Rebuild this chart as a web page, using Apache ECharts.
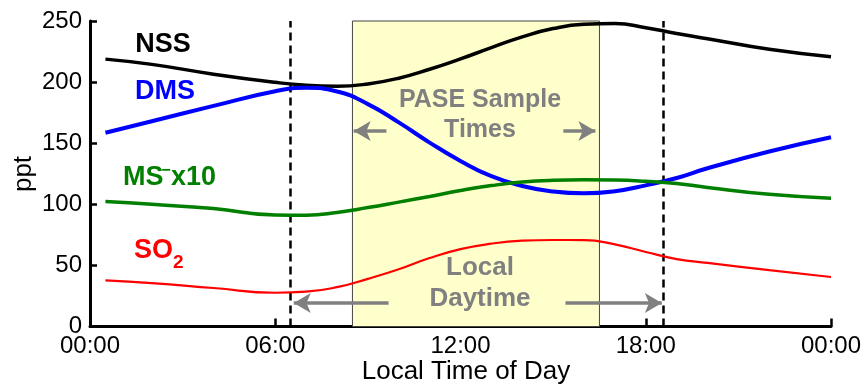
<!DOCTYPE html>
<html><head><meta charset="utf-8">
<script src="https://cdn.jsdelivr.net/npm/echarts@6/dist/echarts.min.js"></script>
<style>html,body{margin:0;padding:0;background:#fff}#c{width:867px;height:389px}</style>
</head><body><div id="c"></div>
<script>
// ---- data ----
const hours = [0.5, 2, 4, 6, 7, 8, 9, 10, 11, 12, 13, 14, 15, 16, 17, 18, 19, 20, 22, 24];
const nss   = [218.8, 214.5, 206.5, 199.8, 197.4, 196.6, 198.5, 203.2, 210.5, 219, 228.2, 237, 243.8, 247.3, 247.9, 244.5, 239.8, 235.5, 226.8, 220.7];
const dms   = [158.5, 168, 180.5, 192.5, 195.3, 192.3, 182, 167, 150.5, 135.5, 123, 115, 110.5, 109, 110.7, 115.5, 121.5, 129.5, 143.2, 154.9];
const ms10  = [102.2, 100, 96.5, 91.2, 91.1, 93.3, 97.3, 101.8, 106.4, 111.3, 115.3, 118.2, 119.6, 120, 119.8, 118.8, 117, 113.8, 108.2, 105];
const so2   = [37.8, 35.5, 31.5, 27.6, 28.5, 32.2, 39, 46.8, 56, 63.3, 67.8, 70.2, 70.8, 70.7, 67.2, 61, 55.2, 52, 46.1, 40.5];
const xTickLabels = ['00:00', '06:00', '12:00', '18:00', '00:00'];
const samplePeriod = [8.5, 16.5];          // PASE sample times (hours)
const daytimeBounds = [6.47, 18.58];       // local sunrise / sunset (hours)
const sampleArrows = [[9.6, 8.54], [15.33, 16.37]];   // [tail, tip] hours
const sampleArrowY = 160;
const daytimeArrows = [[9.67, 6.6], [15.4, 18.52]];
const daytimeArrowY = 19.3;

const FONT = '"Liberation Sans", Arial, Helvetica, sans-serif';
const pair = arr => hours.map((h, i) => [h, arr[i]]);
const lineSeries = (name, arr, color, width) => ({
  type: 'line', name, data: pair(arr), showSymbol: false, smooth: 0.5,
  lineStyle: { color, width }, z: 5, silent: true
});
const arrowLine = (pairs, y) => pairs.map(p => [{ coord: [p[0], y] }, { coord: [p[1], y] }]);

const chart = echarts.init(document.getElementById('c'));
chart.setOption({
  animation: false,
  backgroundColor: '#fff',
  grid: { left: 90, right: 36, top: 21, bottom: 62.5, outerBoundsMode: 'none' },
  xAxis: {
    type: 'value', min: 0, max: 24, interval: 6,
    axisLine: { lineStyle: { color: '#000', width: 3 } },
    axisTick: { inside: true, length: 8, lineStyle: { color: '#000', width: 2.5 } },
    axisLabel: { fontFamily: FONT, fontSize: 24, color: '#000', margin: 8,
      formatter: v => xTickLabels[Math.round(v / 6)] },
    splitLine: { show: false }
  },
  yAxis: {
    type: 'value', min: 0, max: 250, interval: 50,
    axisLine: { show: true, lineStyle: { color: '#000', width: 3 } },
    axisTick: { show: true, inside: true, length: 7, lineStyle: { color: '#000', width: 2.5 } },
    axisLabel: { fontFamily: FONT, fontSize: 24, color: '#000', margin: 8 },
    splitLine: { show: false }
  },
  series: [
    { type: 'line', data: [], z: 1, silent: true,
      markArea: { silent: true, itemStyle: { color: '#ffffcc', borderColor: '#444', borderWidth: 1 },
        data: [[{ xAxis: samplePeriod[0], yAxis: 0 }, { xAxis: samplePeriod[1], yAxis: 250 }]] } },
    { type: 'line', data: [], z: 3, silent: true,
      markLine: { silent: true, symbol: ['none', 'arrow'], symbolSize: [15, 17], label: { show: false },
        lineStyle: { color: '#808080', width: 3.5, type: 'solid' },
        data: arrowLine(sampleArrows, sampleArrowY).concat(arrowLine(daytimeArrows, daytimeArrowY)) } },
    lineSeries('NSS', nss, '#000000', 3.5),
    lineSeries('DMS', dms, '#0000ff', 4),
    lineSeries('MS-x10', ms10, '#007f00', 3.5),
    lineSeries('SO2', so2, '#ff0000', 2.2),
    { type: 'line', data: [], z: 8, silent: true,
      markLine: { silent: true, symbol: ['none', 'none'], label: { show: false },
        lineStyle: { color: '#000', width: 2.5, type: [8, 5] },
        data: daytimeBounds.map(h => ({ xAxis: h })) } }
  ],
  graphic: [
    { type: 'text', x: 163, y: 45, z: 20, style: { text: 'NSS', fill: '#000', fontFamily: FONT, fontWeight: 'bold', fontSize: 27, align: 'center', verticalAlign: 'middle' } },
    { type: 'text', x: 165, y: 92, z: 20, style: { text: 'DMS', fill: '#0000ff', fontFamily: FONT, fontWeight: 'bold', fontSize: 27, align: 'center', verticalAlign: 'middle' } },
    { type: 'text', x: 123, y: 178, z: 20, style: { text: 'MS', fill: '#007f00', fontFamily: FONT, fontWeight: 'bold', fontSize: 27, align: 'left', verticalAlign: 'middle' } },
    { type: 'text', x: 166, y: 171, z: 20, style: { text: '\u2212', fill: '#007f00', fontFamily: FONT, fontWeight: 'bold', fontSize: 16, align: 'center', verticalAlign: 'middle' } },
    { type: 'text', x: 171, y: 178, z: 20, style: { text: 'x10', fill: '#007f00', fontFamily: FONT, fontWeight: 'bold', fontSize: 27, align: 'left', verticalAlign: 'middle' } },
    { type: 'text', x: 134, y: 251, z: 20, style: { text: 'SO', fill: '#ff0000', fontFamily: FONT, fontWeight: 'bold', fontSize: 27, align: 'left', verticalAlign: 'middle' } },
    { type: 'text', x: 173, y: 263, z: 20, style: { text: '2', fill: '#ff0000', fontFamily: FONT, fontWeight: 'bold', fontSize: 19, align: 'left', verticalAlign: 'middle' } },
    { type: 'text', x: 480, y: 115, z: 20, style: { text: 'PASE Sample\nTimes', fill: '#808080', fontFamily: FONT, fontWeight: 'bold', fontSize: 25, lineHeight: 30, align: 'center', verticalAlign: 'middle' } },
    { type: 'text', x: 480, y: 283, z: 20, style: { text: 'Local\nDaytime', fill: '#808080', fontFamily: FONT, fontWeight: 'bold', fontSize: 26, lineHeight: 31, align: 'center', verticalAlign: 'middle' } },
    { type: 'text', x: 466, y: 372, z: 20, style: { text: 'Local Time of Day', fill: '#000', fontFamily: FONT, fontSize: 26, align: 'center', verticalAlign: 'middle' } },
    { type: 'text', x: 24, y: 174, rotation: Math.PI / 2, z: 20, style: { text: 'ppt', fill: '#000', fontFamily: FONT, fontSize: 26, align: 'center', verticalAlign: 'middle' } }
  ]
});
</script>
</body></html>
